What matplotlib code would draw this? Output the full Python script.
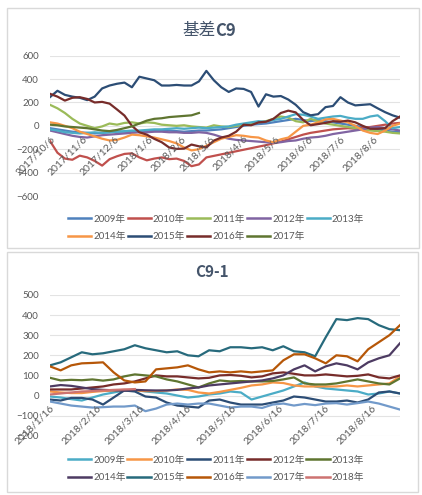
"""
plot.py
Two Excel-style basis charts: 基差C9 and C9-1, one line per year.
"""

import numpy as np
import pandas as pd
import matplotlib
matplotlib.use("Agg")
import matplotlib.pyplot as plt
import matplotlib.patches as mpatches
from matplotlib.lines import Line2D

plt.rcParams["font.family"] = ["Lato", "Noto Sans CJK SC"]

nan = np.nan

# ── data: 基差C9 (weekly reads from 2017/10/6) ────────────────────────────────
top_dates = pd.date_range("2017-10-06", periods=48, freq="7D")
top_ticks = pd.date_range("2017-10-01", periods=11, freq="MS") + pd.Timedelta(days=5)
top_years = ["2009年", "2010年", "2011年", "2012年", "2013年",
             "2014年", "2015年", "2016年", "2017年"]

t2009 = [-20, -30, -40, -50, -55, -60, -65, -60, -55, -50, -50, -55, -50, -45, -45, -40,
         -40, -45, -50, -45, -40, -40, -35, -30, -20, -10, 0, 10, 15, 20, 30, 40,
         50, 60, 50, 40, 50, 40, 30, 20, 10, 0, -10, -20, -30, -40, -50, -55]
t2010 = [-130, -230, -280, -290, -255, -270, -300, -340, -285, -260, -240, -235, -270, -295, -280, -270,
         -285, -280, -300, -345, -330, -270, nan, nan, nan, nan, nan, nan, nan, -165, -150, -135,
         -115, -95, -75, -60, -50, -40, -30, -25, -20, -25, -15, -10, 0, 10, 20, 25]
t2011 = [180, 150, 110, 60, 20, 0, -20, -5, 20, 10, 25, 30, 20, 30, 25, 10,
         5, 0, 5, -5, -10, -15, 5, -5, -10, 0, 10, 20, 30, 40, 60, 80,
         70, 40, 30, 60, 40, 20, 10, 0, -10, -20, -30, -40, -45, -50, -60, -65]
t2012 = [-40, -55, -70, -85, -95, -100, -90, -80, -75, -70, -65, -60, -55, -55, -50, -50,
         -55, -55, -60, -60, -55, -60, -75, -95, -110, -120, -125, -130, -135, -140, -145, -140,
         -130, -125, -110, -100, -95, -85, -70, -60, -50, -40, -30, -15, -10, -20, -30, -40]
t2013 = [-30, -40, -55, -60, -65, -60, -55, -60, -55, -50, -45, -40, -40, -35, -30, -30,
         -25, -20, -25, -20, -15, -20, -15, -10, -5, 10, 20, 30, 40, 35, 50, 60,
         80, 100, 95, 80, 60, 70, 80, 85, 70, 60, 60, 80, 90, 40, -20, -10]
t2014 = [30, 20, 0, -20, -50, -70, -90, -110, -125, -120, -100, -75, -80, -90, -100, -115,
         -130, -150, -185, -210, -200, -170, -140, -110, -95, -80, -85, -95, -100, -125, -140, -115,
         -100, -50, 0, 10, 30, 55, 60, 45, 30, 0, -40, -60, -70, -40, 0, 20]
t2015 = [246, 300, 265, 250, 240, 220, 250, 320, 345, 360, 370, 330, 420, 405, 390, 345,
         345, 350, 345, 345, 380, 470, 390, 330, 290, 320, 316, 290, 165, 270, 250, 255,
         225, 180, 117, 90, 100, 160, 170, 245, 200, 175, 180, 185, 150, 117, 90, 70]
t2016 = [274, 250, 216, 240, 245, 230, 200, 205, 190, 140, 88, 0, -55, -75, -111, -140,
         -185, -197, -195, -160, -175, -185, -126, -100, -85, -50, 10, 5, 30, 35, 60, 110,
         130, 115, 50, 5, 15, 25, 40, 35, 45, 30, 0, -25, -25, -20, 40, 80]
t2017 = [10, 5, -5, -10, -15, -20, -30, -40, -45, -35, -20, -5, 20, 45, 60, 65,
         75, 80, 85, 90, 110] + [nan] * 27

top_series = [t2009, t2010, t2011, t2012, t2013, t2014, t2015, t2016, t2017]
top_colors = ["#4F81BD", "#C0504D", "#9BBB59", "#8064A2", "#4BACC6",
              "#F79646", "#2C4D75", "#772C2A", "#5F7530"]

# ── data: C9-1 (weekly reads from 2018/1/16) ──────────────────────────────────
bot_dates = pd.date_range("2018-01-16", periods=34, freq="7D")
bot_ticks = pd.date_range("2018-01-01", periods=8, freq="MS") + pd.Timedelta(days=15)
bot_years = ["2009年", "2010年", "2011年", "2012年", "2013年",
             "2014年", "2015年", "2016年", "2017年", "2018年"]

b2009 = [-5, -10, -18, -25, -10, 5, 15, 25, 28, 20, 15, 10, 0, -10, -5, 5, 10,
         20, 15, -20, -5, 10, 25, 45, 65, 45, 35, 30, 25, 20, 5, 10, 20, 10]
b2010 = [20, 15, 12, 12, 18, 22, 25, 28, 25, 22, 22, 25, 30, 28, 15, 10, 18,
         28, 38, 50, 55, 65, 62, 50, 45, 45, 45, 45, 50, 45, 50, 55, 60, 95]
b2011 = [-20, -25, -12, -12, -20, -45, -10, 25, 20, -5, -10, -35, -50, -55, -60, -25, -20,
         -35, -45, -45, -45, -35, -25, -5, -10, -20, -30, -30, -25, -35, -20, 15, 20, 10]
b2012 = [30, 30, 30, 35, 40, 45, 55, 60, 70, 85, 100, 95, 95, 90, 85, 88, 100,
         102, 98, 90, 95, 110, 115, 108, 100, 100, 105, 100, 95, 98, 105, 90, 85, 100]
b2013 = [88, 75, 78, 76, 80, 74, 80, 95, 105, 100, 95, 80, 70, 55, 40, 60, 75,
         70, 72, 70, 70, 72, 80, 90, 60, 55, 55, 60, 70, 80, 70, 60, 55, 85]
b2014 = [45, 52, 48, 40, 32, 28, 26, 24, 28, 26, 25, 25, 28, 35, 40, 50, 55,
         60, 65, 70, 75, 85, 100, 130, 150, 120, 145, 160, 150, 130, 165, 185, 200, 260]
b2015 = [150, 165, 190, 215, 205, 210, 220, 230, 250, 235, 225, 215, 220, 200, 195, 225, 220,
         240, 240, 235, 240, 225, 245, 220, 215, 195, 290, 380, 375, 385, 380, 350, 330, 325]
b2016 = [145, 125, 150, 160, 162, 165, 115, 75, 65, 70, 130, 135, 140, 150, 130, 115, 120,
         115, 120, 115, 120, 125, 175, 205, 205, 185, 160, 200, 195, 170, 230, 265, 300, 350]
b2017 = [-30, -40, -50, -55, -60, -58, -55, -55, -50, -78, -65, -45, -40, -45, -40, -40, -50,
         -60, -55, -55, -62, -45, -40, -50, -42, -48, -40, -38, -45, -38, -30, -40, -55, -70]
b2018 = [5, 10, 15, 20, 22, 25, 28, 30, 32] + [nan] * 25

bot_series = [b2009, b2010, b2011, b2012, b2013, b2014, b2015, b2016, b2017, b2018]
bot_colors = ["#4BACC6", "#F79646", "#2C4D75", "#772C2A", "#5F7530",
              "#4D3B62", "#276A7C", "#B65708", "#729ACA", "#CD7371"]

TXT = "#595959"
GRID = "#E3E3E3"
W, H = 422, 495


def fx(px):
    return px / W


def fy(py):
    return 1 - py / H


def draw_chart(ax, dates, series, colors, names, ticks, ylim, ystep):
    for vals, c in zip(series, colors):
        v = np.array(vals, dtype=float)
        ok = ~np.isnan(v)
        ax.plot(dates[ok], v[ok], color=c, lw=1.6, solid_joinstyle="round")
    ax.set_xlim(dates[0], dates[-1])
    ax.set_ylim(*ylim)
    ax.set_yticks(np.arange(ylim[0], ylim[1] + 1, ystep))
    ax.yaxis.grid(True, color=GRID, lw=0.8)
    ax.yaxis.set_zorder(0.5)
    ax.xaxis.set_zorder(3)
    for s in ["top", "right", "left"]:
        ax.spines[s].set_visible(False)
    ax.spines["bottom"].set_position(("data", 0))
    ax.spines["bottom"].set_visible(False)
    ax.set_xticks(ticks)
    ax.set_xticklabels([f"{d.year}/{d.month}/{d.day}" for d in ticks],
                       rotation=45, ha="right", va="top", rotation_mode="anchor")
    ax.tick_params(axis="both", length=0, labelsize=7, labelcolor=TXT)
    ax.tick_params(axis="x", labelsize=7.5, pad=6)
    ax.tick_params(axis="y", pad=8)

    handles = [Line2D([], [], color=c, lw=1.8) for c in colors]
    n = len(handles)
    order = []
    for col in range(5):
        order += [i for i in (col, col + 5) if i < n]
    return [handles[i] for i in order], [names[i] for i in order]


fig = plt.figure(figsize=(W / 100, H / 100), dpi=100)
fig.patch.set_facecolor("white")

# chart frames
for (x0, y0, x1, y1) in [(7, 8, 419, 248), (7, 252, 418, 492)]:
    fig.patches.append(mpatches.Rectangle((fx(x0), fy(y1)), fx(x1) - fx(x0), fy(y0) - fy(y1),
                                          transform=fig.transFigure, fill=False,
                                          edgecolor="#D9D9D9", lw=1))

# ── top: 基差C9 ───────────────────────────────────────────────────────────────
ax1 = fig.add_axes([fx(50), fy(196), fx(350), (196 - 55.7) / H])
h, l = draw_chart(ax1, top_dates, top_series, top_colors, top_years, top_ticks, (-600, 600), 200)
ax1.legend(h, l, loc="center", bbox_to_anchor=(fx(216), fy(228)), bbox_transform=fig.transFigure,
           ncol=5, frameon=False, fontsize=7, labelcolor=TXT, handlelength=2.4,
           handletextpad=0.2, columnspacing=0.2, labelspacing=0.85)
fig.text(fx(216), fy(31), "基差", ha="right", va="center", fontsize=12, color="#44546A",
         family=["Noto Sans CJK SC"])
fig.text(fx(215), fy(31), "C9", ha="left", va="center", fontsize=12, color="#44546A",
         fontweight="bold", family=["Noto Sans CJK SC"])

# ── bottom: C9-1 ─────────────────────────────────────────────────────────────
ax2 = fig.add_axes([fx(50), fy(435.7), fx(350), (435.7 - 295) / H])
h, l = draw_chart(ax2, bot_dates, bot_series, bot_colors, bot_years, bot_ticks, (-200, 500), 100)
ax2.legend(h, l, loc="center", bbox_to_anchor=(fx(216), fy(469)), bbox_transform=fig.transFigure,
           ncol=5, frameon=False, fontsize=7, labelcolor=TXT, handlelength=2.4,
           handletextpad=0.2, columnspacing=0.2, labelspacing=0.85)
fig.text(fx(212), fy(272), "C9-1", ha="center", va="center", fontsize=11, color="#44546A",
         fontweight="bold", family=["Noto Sans CJK SC"])

fig.savefig("out.png", dpi=100, facecolor="white")
plt.close()
